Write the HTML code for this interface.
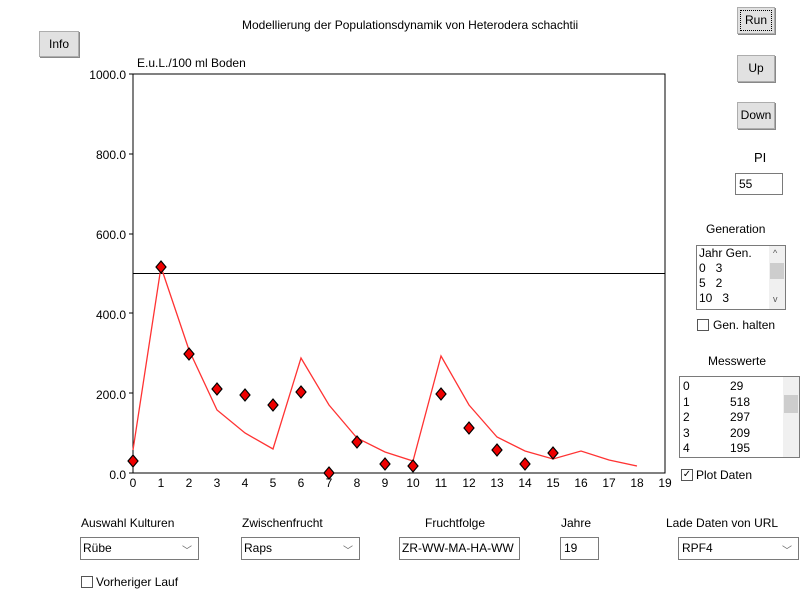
<!DOCTYPE html>
<html><head><meta charset="utf-8"><style>
body{margin:0;width:800px;height:600px;background:#fff;font-family:"Liberation Sans",sans-serif;font-size:12px;position:relative;overflow:hidden}
.a{position:absolute;white-space:nowrap}
.btn{position:absolute;background:#e1e1e1;border:1px solid #adadad;box-shadow:1px 1px 0 #888;text-align:center;font-size:12px}
.box{position:absolute;border:1px solid #7a7a7a;background:#fff;font-size:12px}
.sel{position:absolute;border:1px solid #7a7a7a;background:#fff;font-size:12px}
.sel span{position:absolute;right:6px;top:3px;color:#666;font-size:10px}
.cb{position:absolute;width:10px;height:10px;border:1px solid #555;background:#fff}
</style></head><body>
<div class="a" style="left:242px;top:18px">Modellierung der Populationsdynamik von Heterodera schachtii</div>
<div class="btn" style="left:39px;top:31px;width:38px;height:24px;line-height:24px">Info</div>
<div class="btn" style="left:737px;top:7px;width:36px;height:25px;line-height:25px;outline:1px dotted #000;outline-offset:-4px">Run</div>
<div class="btn" style="left:737px;top:55px;width:36px;height:25px;line-height:25px">Up</div>
<div class="btn" style="left:737px;top:102px;width:36px;height:25px;line-height:25px">Down</div>
<div class="a" style="left:754px;top:150px;font-size:13px">PI</div>
<div class="box" style="left:735px;top:173px;width:43px;height:20px;line-height:20px;padding-left:3px">55</div>
<div class="a" style="left:706px;top:222px">Generation</div>
<div class="box" style="left:696px;top:245px;width:86px;height:63px;line-height:15px;padding-left:2px">Jahr Gen.<br>0&nbsp;&nbsp; 3<br>5&nbsp;&nbsp; 2<br>10&nbsp;&nbsp; 3
<div style="position:absolute;right:0;top:0;width:16px;height:63px;background:#f0f0f0"><div style="position:absolute;top:17px;left:1px;width:14px;height:16px;background:#cdcdcd"></div><div style="position:absolute;top:0;left:4px;font-size:9px;color:#555">^</div><div style="position:absolute;bottom:2px;left:4px;font-size:9px;color:#555">v</div></div></div>
<div class="cb" style="left:697px;top:319px"></div>
<div class="a" style="left:713px;top:318px">Gen. halten</div>
<div class="a" style="left:708px;top:354px">Messwerte</div>
<div class="box" style="left:679px;top:376px;width:119px;height:80px;line-height:15.5px">
<div style="position:absolute;left:3px;top:2px">0<br>1<br>2<br>3<br>4</div>
<div style="position:absolute;left:50px;top:2px">29<br>518<br>297<br>209<br>195</div>
<div style="position:absolute;right:0;top:0;width:16px;height:80px;background:#f0f0f0"><div style="position:absolute;top:18px;left:1px;width:14px;height:18px;background:#cdcdcd"></div></div></div>
<div class="cb" style="left:681px;top:469px;font-size:10px;line-height:10px;text-align:center">✓</div>
<div class="a" style="left:696px;top:468px">Plot Daten</div>
<div class="a" style="left:137px;top:56px">E.u.L./100 ml Boden</div>
<svg class="a" style="left:0;top:0" width="800" height="600">
<rect x="133" y="74" width="532" height="399" fill="none" stroke="#000"/>
<line x1="133" y1="273.5" x2="665" y2="273.5" stroke="#000"/>
<g font-family="Liberation Sans" font-size="12" text-anchor="end">
<text x="126" y="479">0.0</text><text x="126" y="399">200.0</text><text x="126" y="319">400.0</text><text x="126" y="239">600.0</text><text x="126" y="159">800.0</text><text x="126" y="79">1000.0</text>
</g>
<g stroke="#000"><line x1="129" y1="473" x2="133" y2="473"/><line x1="129" y1="393" x2="133" y2="393"/><line x1="129" y1="313" x2="133" y2="313"/><line x1="129" y1="234" x2="133" y2="234"/><line x1="129" y1="154" x2="133" y2="154"/><line x1="129" y1="74" x2="133" y2="74"/></g>
<g font-family="Liberation Sans" font-size="12" text-anchor="middle">
<text x="133" y="487">0</text><text x="161" y="487">1</text><text x="189" y="487">2</text><text x="217" y="487">3</text><text x="245" y="487">4</text><text x="273" y="487">5</text><text x="301" y="487">6</text><text x="329" y="487">7</text><text x="357" y="487">8</text><text x="385" y="487">9</text><text x="413" y="487">10</text><text x="441" y="487">11</text><text x="469" y="487">12</text><text x="497" y="487">13</text><text x="525" y="487">14</text><text x="553" y="487">15</text><text x="581" y="487">16</text><text x="609" y="487">17</text><text x="637" y="487">18</text><text x="665" y="487">19</text>
</g>
<polyline fill="none" stroke="#f33" stroke-width="1.3" points="133,450 161,267 189,350 217,410 245,433 273,449 301,358 329,405 357,438 385,452 413,461 441,356 469,405 497,437 525,451 553,459 581,451 609,460 637,466"/>
<g fill="#e00" stroke="#000" stroke-width="1.2">
<path d="M133,455l5,6l-5,6l-5,-6z"/>
<path d="M161,261l5,6l-5,6l-5,-6z"/>
<path d="M189,348l5,6l-5,6l-5,-6z"/>
<path d="M217,383l5,6l-5,6l-5,-6z"/>
<path d="M245,389l5,6l-5,6l-5,-6z"/>
<path d="M273,399l5,6l-5,6l-5,-6z"/>
<path d="M301,386l5,6l-5,6l-5,-6z"/>
<path d="M329,467l5,6l-5,6l-5,-6z"/>
<path d="M357,436l5,6l-5,6l-5,-6z"/>
<path d="M385,458l5,6l-5,6l-5,-6z"/>
<path d="M413,460l5,6l-5,6l-5,-6z"/>
<path d="M441,388l5,6l-5,6l-5,-6z"/>
<path d="M469,422l5,6l-5,6l-5,-6z"/>
<path d="M497,444l5,6l-5,6l-5,-6z"/>
<path d="M525,458l5,6l-5,6l-5,-6z"/>
<path d="M553,447l5,6l-5,6l-5,-6z"/>
</g>
</svg>
<div class="a" style="left:81px;top:516px">Auswahl Kulturen</div>
<div class="a" style="left:242px;top:516px">Zwischenfrucht</div>
<div class="a" style="left:425px;top:516px">Fruchtfolge</div>
<div class="a" style="left:561px;top:516px">Jahre</div>
<div class="a" style="left:666px;top:516px">Lade Daten von URL</div>
<div class="sel" style="left:80px;top:537px;width:115px;height:21px;line-height:21px;padding-left:2px">Rübe<span>﹀</span></div>
<div class="sel" style="left:241px;top:537px;width:115px;height:21px;line-height:21px;padding-left:2px">Raps<span>﹀</span></div>
<div class="box" style="left:399px;top:537px;width:117px;height:21px;line-height:21px;padding-left:2px;overflow:hidden">ZR-WW-MA-HA-WW</div>
<div class="box" style="left:560px;top:537px;width:34px;height:21px;line-height:21px;padding-left:3px">19</div>
<div class="sel" style="left:678px;top:537px;width:116px;height:21px;line-height:21px;padding-left:3px">RPF4<span>﹀</span></div>
<div class="cb" style="left:81px;top:576px"></div>
<div class="a" style="left:96px;top:575px">Vorheriger Lauf</div>
</body></html>
